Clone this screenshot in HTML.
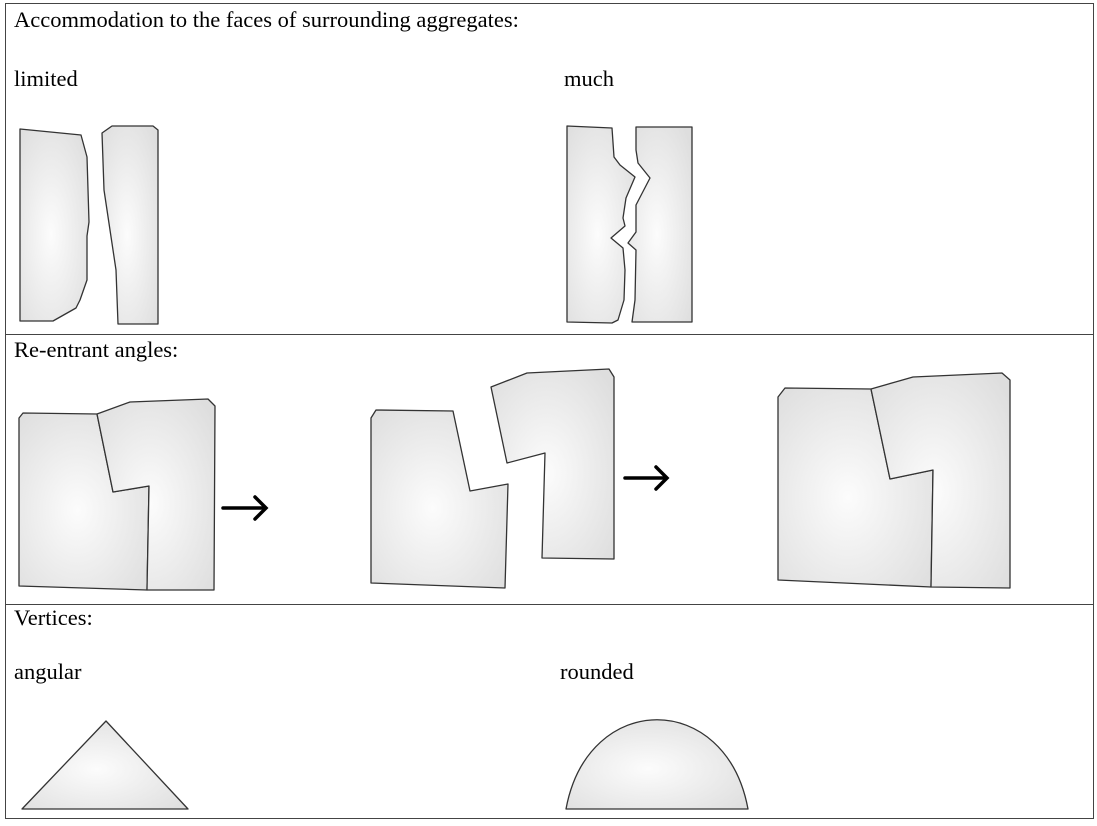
<!DOCTYPE html>
<html><head><meta charset="utf-8"><style>
body{margin:0;background:#fff;width:1097px;height:821px;overflow:hidden}
svg text{font-family:"Liberation Serif",serif;font-size:22.5px;fill:#000}
</style></head><body>
<svg width="1097" height="821">
<defs><radialGradient id="g" cx="0.45" cy="0.55" r="0.7"><stop offset="0" stop-color="#fcfcfc"/><stop offset="1" stop-color="#dedede"/></radialGradient></defs>
<g fill="none" stroke="#444" stroke-width="1">
<rect x="5.5" y="3.5" width="1088" height="815"/>
<line x1="5" y1="334.5" x2="1093" y2="334.5"/><line x1="5" y1="604.5" x2="1093" y2="604.5"/>
</g>
<text x="14" y="27">Accommodation to the faces of surrounding aggregates:</text>
<text x="14" y="86">limited</text>
<text x="564" y="86">much</text>
<text x="14" y="357">Re-entrant angles:</text>
<text x="14" y="625">Vertices:</text>
<text x="14" y="679">angular</text>
<text x="560" y="679">rounded</text>
<g fill="url(#g)" stroke="#333" stroke-width="1.3" stroke-linejoin="round">
<polygon points="20,129 81,135 87,157 89,222 87,236 87,280 80,300 76,308 53,321 20,321"/>
<polygon points="102,133 112,126 153,126 158,130 158,324 118,324 116,270 104,190"/>
<polygon points="567,126 612,128 614,157 620,165 635,177 626,198 623,218 625,226 611,238 623,248 625,270 624,300 618,320 612,323 567,322"/>
<polygon points="636,127 692,127 692,322 632,322 635,300 636,250 628,243 636,232 636,205 650,178 638,163 636,150"/>
<polygon points="19,418 23,413 97,414 113,492 149,486 147,590 19,586"/>
<polygon points="97,414 130,402 208,399 215,406 214,590 147,590 149,486 113,492"/>
<polygon points="371,418 376,410 453,411 470,491 508,484 505,588 371,583"/>
<polygon points="491,387 527,373 609,369 614,377 614,559 542,558 545,453 507,463"/>
<polygon points="778,397 785,388 871,389 890,479 933,470 931,587 778,580"/>
<polygon points="871,389 913,377 1002,373 1010,380 1010,588 931,587 933,470 890,479"/>
<polygon points="22,809 106,721 188,809"/>
<path d="M566,809 C588,690 726,690 748,809 Z"/>
</g>
<g stroke="#000" stroke-width="3.5" fill="none" stroke-linecap="round">
<g><line x1="223" y1="508" x2="265" y2="508"/><polyline points="255,497 266,508 255,519"/></g>
<g><line x1="625" y1="478" x2="666" y2="478"/><polyline points="656,467 667,478 656,489"/></g>
</g>
</svg>
</body></html>
